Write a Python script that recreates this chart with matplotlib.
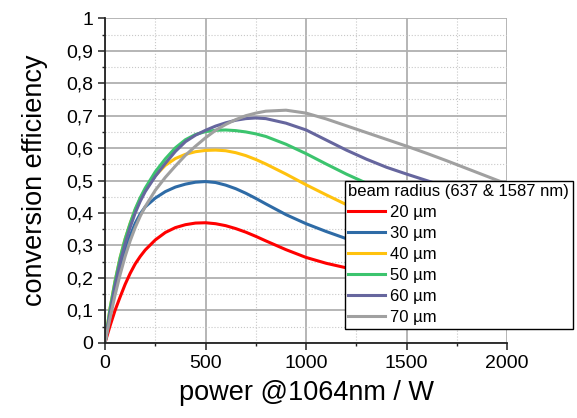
import numpy as np
import matplotlib
matplotlib.use("Agg")
import matplotlib.pyplot as plt
from matplotlib.ticker import MultipleLocator, FuncFormatter

plt.rcParams['font.family'] = ['Liberation Sans', 'DejaVu Sans']

# pump power @1064nm (W)
power = [0, 25, 50, 75, 100, 125, 150, 175, 200, 250, 300, 350, 400, 450, 500, 550,
         600, 650, 700, 750, 800, 900, 1000, 1100, 1200, 1300, 1400, 1500, 1600,
         1700, 1800, 1900, 2000]

eff_20 = [0, 0.052, 0.100, 0.141, 0.180, 0.214, 0.243, 0.266, 0.286, 0.317, 0.340, 0.355,
          0.364, 0.369, 0.370, 0.367, 0.361, 0.352, 0.341, 0.328, 0.314, 0.287, 0.263,
          0.245, 0.231, 0.219, 0.209, 0.200, 0.192, 0.185, 0.178, 0.172, 0.166]
eff_30 = [0, 0.084, 0.162, 0.228, 0.282, 0.330, 0.368, 0.397, 0.419, 0.446, 0.466, 0.480,
          0.489, 0.495, 0.497, 0.494, 0.486, 0.475, 0.461, 0.445, 0.428, 0.395, 0.367,
          0.343, 0.321, 0.301, 0.283, 0.267, 0.253, 0.240, 0.229, 0.219, 0.210]
eff_40 = [0, 0.106, 0.190, 0.262, 0.320, 0.368, 0.410, 0.444, 0.472, 0.515, 0.547, 0.568,
          0.581, 0.589, 0.593, 0.594, 0.592, 0.586, 0.577, 0.565, 0.551, 0.520, 0.487,
          0.456, 0.426, 0.399, 0.375, 0.354, 0.335, 0.318, 0.303, 0.290, 0.278]
eff_50 = [0, 0.106, 0.190, 0.262, 0.320, 0.368, 0.412, 0.447, 0.477, 0.527, 0.567, 0.601,
          0.626, 0.642, 0.651, 0.655, 0.656, 0.654, 0.650, 0.644, 0.636, 0.612, 0.583,
          0.551, 0.520, 0.492, 0.467, 0.444, 0.423, 0.404, 0.387, 0.371, 0.356]
eff_60 = [0, 0.093, 0.176, 0.248, 0.306, 0.356, 0.400, 0.436, 0.466, 0.513, 0.553, 0.590,
          0.620, 0.640, 0.655, 0.668, 0.678, 0.686, 0.691, 0.693, 0.691, 0.677, 0.656,
          0.625, 0.594, 0.566, 0.541, 0.520, 0.500, 0.480, 0.461, 0.443, 0.426]
eff_70 = [0, 0.076, 0.147, 0.210, 0.266, 0.314, 0.355, 0.390, 0.420, 0.470, 0.510, 0.545,
          0.578, 0.606, 0.632, 0.655, 0.673, 0.688, 0.700, 0.708, 0.714, 0.717, 0.708,
          0.690, 0.669, 0.648, 0.627, 0.606, 0.584, 0.561, 0.537, 0.513, 0.489]

labels = ["20 µm", "30 µm", "40 µm", "50 µm", "60 µm", "70 µm"]
colors = ["#FF0000", "#2E6BA6", "#FFC20E", "#3CC46E", "#66669E", "#A0A0A0"]

fig = plt.figure(figsize=(5.77, 4.18), dpi=100)
ax = fig.add_axes([0.182, 0.180, 0.697, 0.776])

for y, lab, c in zip([eff_20, eff_30, eff_40, eff_50, eff_60, eff_70], labels, colors):
    ax.plot(power, y, color=c, lw=2.2, label=lab, solid_joinstyle='round')

ax.set_xlim(0, 2000)
ax.set_ylim(0, 1)
ax.xaxis.set_major_locator(MultipleLocator(500))
ax.xaxis.set_minor_locator(MultipleLocator(250))
ax.yaxis.set_major_locator(MultipleLocator(0.1))
ax.yaxis.set_minor_locator(MultipleLocator(0.05))
ax.yaxis.set_major_formatter(FuncFormatter(lambda v, p: "{:g}".format(round(v, 2)).replace(".", ",")))

ax.grid(which='major', color='#B0B0B0', lw=1.3, ls='-')
ax.grid(which='minor', color='#C8C8C8', lw=0.8, ls=':')
ax.set_axisbelow(True)

for s in ['top', 'right']:
    ax.spines[s].set_visible(False)
for s in ['left', 'bottom']:
    ax.spines[s].set_linewidth(1.3)
    ax.spines[s].set_color('#222222')

ax.tick_params(which='major', direction='out', length=5, width=1.1, labelsize=14, colors='#222222')
ax.tick_params(which='minor', direction='out', length=2.5, width=1.0, colors='#222222')
ax.tick_params(labelcolor='black')

ax.set_xlabel("power @1064nm / W", fontsize=19.5, labelpad=6)
ax.set_ylabel("conversion efficiency", fontsize=19.5, labelpad=13)

leg = ax.legend(title="beam radius (637 & 1587 nm)", loc='upper left',
                bbox_to_anchor=(0.598, 0.567), bbox_transform=fig.transFigure,
                fontsize=12, title_fontsize=12, frameon=True, fancybox=False,
                edgecolor='black', framealpha=1, borderpad=0.2, labelspacing=0.36,
                handlelength=2.2, handletextpad=0.3, borderaxespad=0)
leg._legend_box.align = "left"
leg.get_frame().set_linewidth(1.0)

fig.canvas.draw()
# no gridline on the top and right limits
ax.get_ygridlines()[-1].set_visible(False)
ax.get_xgridlines()[-1].set_visible(False)

fig.savefig("out.png", dpi=100)
